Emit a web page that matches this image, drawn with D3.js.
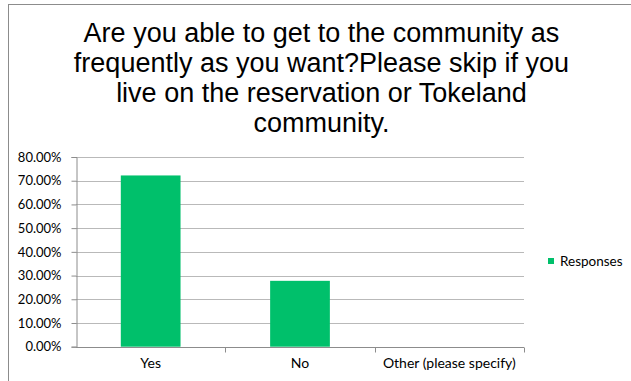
<!DOCTYPE html>
<html>
<head>
<meta charset="utf-8">
<script src="https://cdn.jsdelivr.net/npm/d3@7"></script>
<style>
  body { margin: 0; background: #fff; }
  svg { display: block; }
</style>
</head>
<body>
<div id="chart"></div>
<script>
const categories = ["Yes", "No", "Other (please specify)"];
const responses = [0.7222, 0.2778, 0];
const yTicks = [0, 0.1, 0.2, 0.3, 0.4, 0.5, 0.6, 0.7, 0.8];
const titleLines = [
  "Are you able to get to the community as",
  "frequently as you want?Please skip if you",
  "live on the reservation or Tokeland",
  "community."
];
const seriesName = "Responses";

const width = 631, height = 381;
const plot = { left: 76, right: 524, top: 157, bottom: 346.7 };
const green = "#00c06b";
const labelFont = "Lato, 'Open Sans', sans-serif";

const svg = d3.select("#chart").append("svg")
  .attr("width", width)
  .attr("height", height);

// chart frame
svg.append("rect")
  .attr("x", 8.5).attr("y", 4.5)
  .attr("width", 640).attr("height", 400)
  .attr("fill", "#fff")
  .attr("stroke", "#8c8c8c");

// title
svg.append("g")
  .selectAll("text")
  .data(titleLines)
  .enter()
  .append("text")
  .attr("x", 321.5)
  .attr("y", (d, i) => 42 + i * 30)
  .attr("text-anchor", "middle")
  .style("font-family", "'Liberation Sans', Arial, sans-serif")
  .style("font-size", "27px")
  .attr("fill", "#000")
  .text(d => d);

const x = d3.scaleBand()
  .domain(categories)
  .range([plot.left, plot.right])
  .paddingInner(0.6)
  .paddingOuter(0.3);

const xOuter = d3.scaleBand()
  .domain(categories)
  .range([plot.left, plot.right]);

const y = d3.scaleLinear()
  .domain([0, 0.8])
  .range([plot.bottom, plot.top]);

// gridlines
svg.append("g")
  .selectAll("line")
  .data(yTicks.slice(1))
  .enter()
  .append("line")
  .attr("x1", plot.left).attr("x2", plot.right)
  .attr("y1", d => Math.round(y(d)) + 0.5)
  .attr("y2", d => Math.round(y(d)) + 0.5)
  .attr("stroke", "#b9b9b9")
  .attr("stroke-width", 1);

// bars
svg.append("g")
  .selectAll("rect")
  .data(responses)
  .enter()
  .append("rect")
  .attr("x", (d, i) => x(categories[i]))
  .attr("width", x.bandwidth())
  .attr("y", d => y(d))
  .attr("height", d => plot.bottom - y(d))
  .attr("fill", green);

// y axis
const yAxis = d3.axisLeft(y)
  .tickValues(yTicks)
  .tickSize(5)
  .tickPadding(10)
  .tickFormat(d3.format(".2%"));

const gy = svg.append("g")
  .attr("transform", `translate(${plot.left + 0.5},0)`)
  .call(yAxis);
gy.select(".domain").attr("stroke", "#8c8c8c");
gy.selectAll(".tick line").attr("stroke", "#8c8c8c");
gy.selectAll(".tick text")
  .style("font-family", labelFont)
  .style("font-size", "13px")
  .attr("fill", "#000");

// x axis
const gx = svg.append("g")
  .attr("transform", `translate(0,${Math.round(plot.bottom) + 0.5})`);
gx.append("line")
  .attr("x1", plot.left).attr("x2", plot.right)
  .attr("stroke", "#8c8c8c");
gx.selectAll(".sep")
  .data(categories.slice(1).concat(["end"]))
  .enter()
  .append("line")
  .attr("class", "sep")
  .attr("x1", (d, i) => Math.round(i < 2 ? xOuter(d) : plot.right) + 0.5)
  .attr("x2", (d, i) => Math.round(i < 2 ? xOuter(d) : plot.right) + 0.5)
  .attr("y1", 0).attr("y2", 5)
  .attr("stroke", "#8c8c8c");
gx.selectAll("text")
  .data(categories)
  .enter()
  .append("text")
  .attr("x", d => xOuter(d) + xOuter.bandwidth() / 2)
  .attr("y", 20)
  .attr("text-anchor", "middle")
  .style("font-family", labelFont)
  .style("font-size", "14px")
  .attr("fill", "#000")
  .text(d => d);

// legend
const legend = svg.append("g").attr("transform", "translate(548,258)");
legend.append("rect")
  .attr("width", 6).attr("height", 6)
  .attr("fill", green);
legend.append("text")
  .attr("x", 12).attr("y", 7.5)
  .style("font-family", labelFont)
  .style("font-size", "13.5px")
  .attr("fill", "#000")
  .text(seriesName);
</script>
</body>
</html>
